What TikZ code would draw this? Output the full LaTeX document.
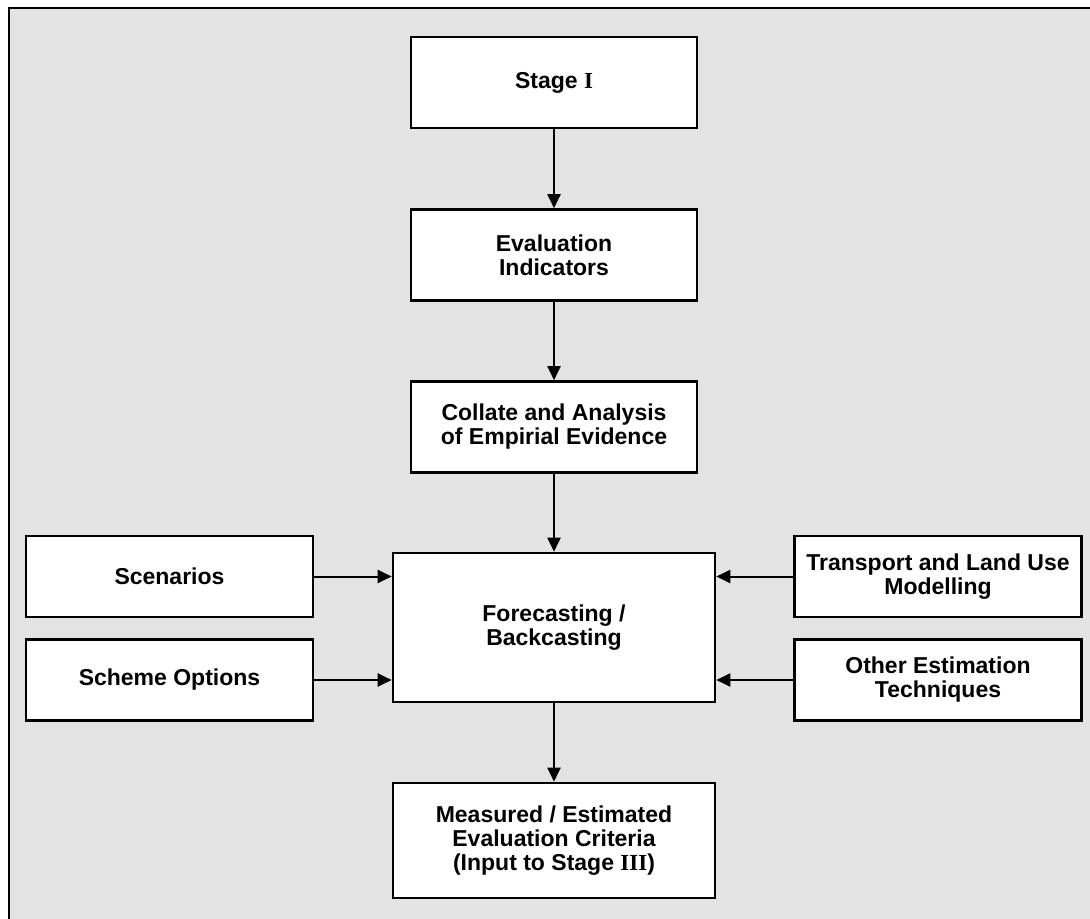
\documentclass[tikz,border=0pt]{standalone}
\usepackage{fontspec}
\setmainfont{Liberation Sans}
\newfontfamily\romanfont{Liberation Serif}
\usetikzlibrary{arrows.meta}
\definecolor{bggray}{RGB}{227,227,227}
\begin{document}
\begin{tikzpicture}[x=0.5pt, y=-0.5pt,
    font=\fontsize{11.5}{12}\selectfont\bfseries,
    box/.style={draw, line width=1.3pt, fill=white, align=center, inner sep=0pt},
    mainbox/.style={box, minimum width=143pt, minimum height=45.5pt},
    sidebox/.style={box, minimum width=143.5pt, minimum height=40.5pt},
    widebox/.style={box, minimum width=161pt},
    link/.style={line width=1pt, -{Triangle[length=7pt, width=6.5pt]}}]
\useasboundingbox (0,0) rectangle (1090,919);
\fill[bggray] (9,8) rectangle (1090,919);
\draw[line width=1pt] (9,919) -- (9,8) -- (1090,8);
    \node [mainbox] (stage) at (554,82.5) {Stage {\romanfont I}};
    \node [mainbox] (indic) at (554,255) {Evaluation\\Indicators};
    \node [mainbox] (collate) at (554,427) {Collate and Analysis\\of Empirial Evidence};
    \node [widebox, minimum height=74.5pt] (fore) at (554,627.5) {Forecasting /\\Backcasting};
    \node [widebox, minimum height=57.5pt] (meas) at (554,840.5) {Measured / Estimated\\Evaluation Criteria\\(Input to Stage {\romanfont III})};
    \node [sidebox] (scen) at (169.5,576.5) {Scenarios};
    \node [sidebox] (scheme) at (169.5,680) {Scheme Options};
    \node [sidebox] (trans) at (938,576.5) {Transport and Land Use\\Modelling};
    \node [sidebox] (other) at (938,680) {Other Estimation\\Techniques};
\draw [link] (stage) -- (indic);
\draw [link] (indic) -- (collate);
\draw [link] (collate) -- (fore);
\draw [link] (fore) -- (meas);
\draw [link] (scen) -- (scen -| fore.west);
\draw [link] (scheme) -- (scheme -| fore.west);
\draw [link] (trans) -- (trans -| fore.east);
\draw [link] (other) -- (other -| fore.east);
\end{tikzpicture}
\end{document}
